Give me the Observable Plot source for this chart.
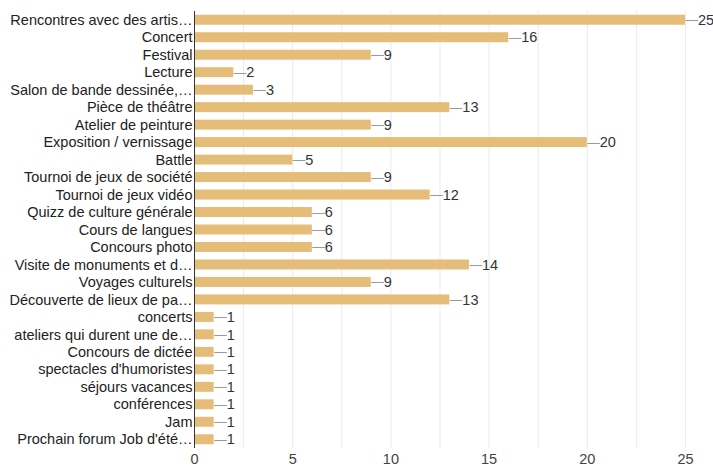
<!DOCTYPE html>
<html>
<head>
<meta charset="utf-8">
<script src="https://cdn.jsdelivr.net/npm/d3@7"></script>
<script src="https://cdn.jsdelivr.net/npm/@observablehq/plot@0.6"></script>
<style>
  html, body { margin: 0; padding: 0; background: #fff; }
  body { font-family: "Liberation Sans", Arial, sans-serif; }
</style>
</head>
<body>
<div id="chart"></div>
<script>
const categories = [
  "Rencontres avec des artis…",
  "Concert",
  "Festival",
  "Lecture",
  "Salon de bande dessinée,…",
  "Pièce de théâtre",
  "Atelier de peinture",
  "Exposition / vernissage",
  "Battle",
  "Tournoi de jeux de société",
  "Tournoi de jeux vidéo",
  "Quizz de culture générale",
  "Cours de langues",
  "Concours photo",
  "Visite de monuments et d…",
  "Voyages culturels",
  "Découverte de lieux de pa…",
  "concerts",
  "ateliers qui durent une de…",
  "Concours de dictée",
  "spectacles d'humoristes",
  "séjours vacances",
  "conférences",
  "Jam",
  "Prochain forum Job d'été…"
];
const values = [25, 16, 9, 2, 3, 13, 9, 20, 5, 9, 12, 6, 6, 6, 14, 9, 13, 1, 1, 1, 1, 1, 1, 1, 1];
const xTicks = [0, 5, 10, 15, 20, 25];
const gridTicks = [2.5, 5, 7.5, 10, 12.5, 15, 17.5, 20, 22.5, 25];

const data = categories.map((c, i) => ({label: c, value: values[i]}));

const chart = Plot.plot({
  width: 713,
  height: 468,
  marginLeft: 194,
  marginRight: 28,
  marginTop: 11,
  marginBottom: 20,
  style: {fontFamily: "'Liberation Sans', Arial, sans-serif", fontSize: "14.5px", background: "#fff"},
  x: {domain: [0, 25]},
  y: {domain: categories, paddingInner: 0.43, paddingOuter: 0.215, round: false},
  marks: [
    Plot.ruleX(gridTicks, {stroke: "#ebebeb", strokeWidth: 1}),
    Plot.barX(data, {x: "value", y: "label", fill: "#e6bc79"}),
    Plot.ruleX([0], {stroke: "#333", strokeWidth: 1}),
    Plot.text(data, {x: "value", y: "label", text: d => "—", textAnchor: "start", fill: "#9a9a9a", fontSize: 12.5}),
    Plot.text(data, {x: "value", y: "label", text: d => String(d.value), textAnchor: "start", dx: 12.5, fill: "#333", fontSize: 14.5}),
    Plot.axisY({tickSize: 0, tickPadding: 2, fill: "#222", fontSize: 14.5, label: null}),
    Plot.axisX({ticks: xTicks, tickSize: 0, tickPadding: 5, fill: "#444", fontSize: 14.5, label: null})
  ]
});
document.getElementById("chart").appendChild(chart);
</script>
</body>
</html>
